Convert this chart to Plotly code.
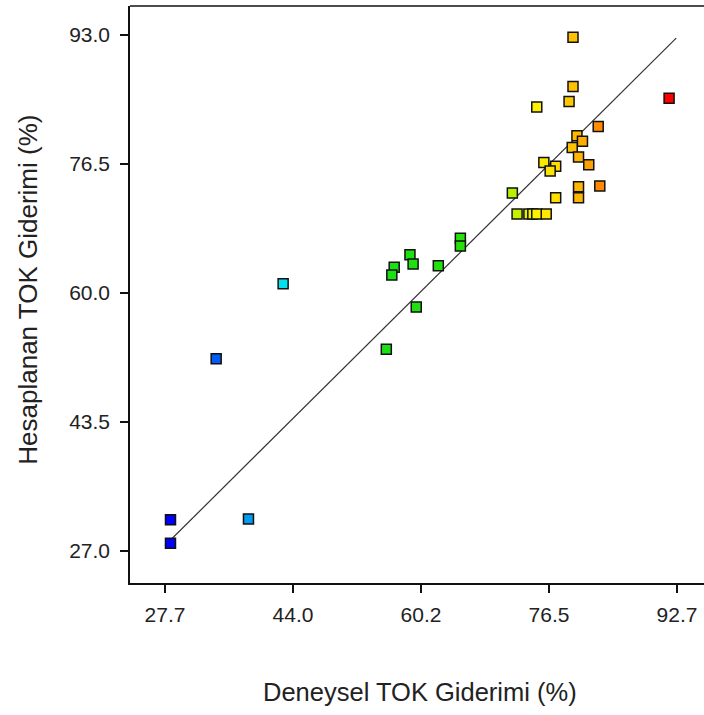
import plotly.graph_objects as go

# Experimental (actual) vs. model-predicted TOC removal, %
deneysel = [79.5, 79.5, 79.0, 74.9, 82.7, 91.7, 80.0, 80.7, 79.4, 80.2,
            81.5, 75.8, 77.3, 76.6, 80.2, 80.2, 82.9, 77.3, 71.8, 72.4,
            73.9, 74.4, 74.9, 76.1, 65.2, 65.2, 58.8, 59.2, 56.8, 56.5,
            62.4, 59.6, 55.8, 28.4, 28.4, 38.3, 42.7, 34.2]
hesaplanan = [92.7, 86.4, 84.5, 83.8, 81.3, 84.9, 80.1, 79.4, 78.6, 77.4,
              76.4, 76.7, 76.2, 75.6, 73.6, 72.2, 73.7, 72.2, 72.8, 70.1,
              70.1, 70.1, 70.1, 70.1, 67.0, 66.0, 64.9, 63.7, 63.3, 62.3,
              63.5, 58.2, 52.8, 31.0, 28.0, 31.1, 61.2, 51.6]

x_tick_vals = [27.7, 43.95, 60.2, 76.45, 92.7]
x_tick_text = ["27.7", "44.0", "60.2", "76.5", "92.7"]
y_tick_vals = [27.0, 43.5, 60.0, 76.5, 93.0]
y_tick_text = ["27.0", "43.5", "60.0", "76.5", "93.0"]

ideal_line = [27.7, 92.6]

# blue -> cyan -> green -> yellow -> red, keyed to the experimental value
c_min, c_max = 28.4, 91.7
colorscale = [
    [0.0, "rgb(0,0,255)"],
    [0.226, "rgb(0,225,235)"],
    [0.373, "rgb(20,225,20)"],
    [0.594, "rgb(40,225,10)"],
    [0.689, "rgb(190,240,0)"],
    [0.736, "rgb(255,240,0)"],
    [0.784, "rgb(255,215,0)"],
    [0.815, "rgb(255,185,0)"],
    [0.863, "rgb(255,135,0)"],
    [1.0, "rgb(255,0,0)"],
]

fig = go.Figure()

fig.add_trace(go.Scatter(
    x=ideal_line, y=ideal_line, mode="lines",
    line=dict(color="#333333", width=1.2),
    hoverinfo="skip", showlegend=False,
))

fig.add_trace(go.Scatter(
    x=deneysel, y=hesaplanan, mode="markers",
    marker=dict(
        symbol="square", size=10,
        color=deneysel, colorscale=colorscale, cmin=c_min, cmax=c_max,
        line=dict(color="#111111", width=1.5),
    ),
    showlegend=False,
))

font_family = "Liberation Sans, Arial, sans-serif"
axis_common = dict(
    showgrid=False, zeroline=False,
    showline=True, linecolor="#111111", linewidth=1.5, mirror=False,
    ticks="outside", ticklen=8, tickwidth=1.5, tickcolor="#111111",
    tickfont=dict(family=font_family, size=21, color="#222222"),
)

fig.update_layout(
    width=704, height=715,
    margin=dict(l=130, r=0, t=6, b=132),
    paper_bgcolor="white", plot_bgcolor="white",
    xaxis=dict(range=[23.26, 96.13], tickvals=x_tick_vals, ticktext=x_tick_text,
               ticklabelstandoff=4, **axis_common),
    yaxis=dict(range=[22.91, 96.71], tickvals=y_tick_vals, ticktext=y_tick_text,
               ticklabelstandoff=6, **axis_common),
    shapes=[dict(type="line", xref="paper", yref="paper", x0=0, x1=1, y0=1, y1=1,
                 line=dict(color="#111111", width=1.5))],
    annotations=[
        dict(text="Deneysel TOK Giderimi (%)", xref="paper", yref="paper",
             x=0.505, y=-0.189, xanchor="center", yanchor="middle", showarrow=False,
             font=dict(family=font_family, size=25.5, color="#222222")),
        dict(text="Hesaplanan TOK Giderimi (%)", xref="paper", yref="paper",
             x=-0.178, y=0.508, xanchor="center", yanchor="middle", textangle=-90,
             showarrow=False, font=dict(family=font_family, size=26, color="#222222")),
    ],
)

fig.write_html("out.html")
